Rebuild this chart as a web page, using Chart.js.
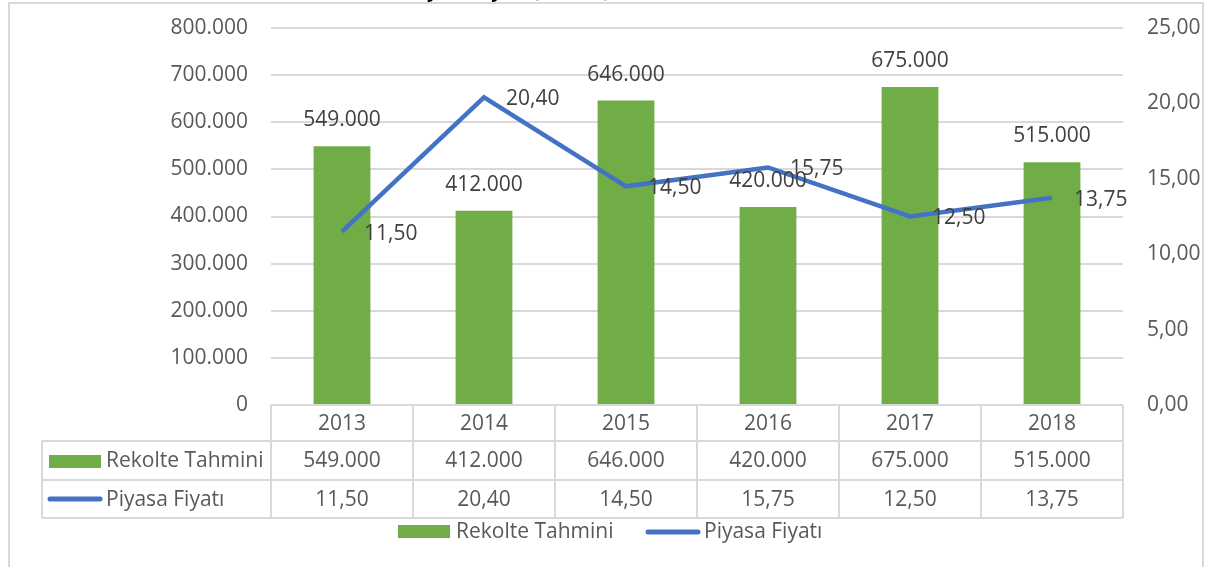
<!DOCTYPE html>
<html>
<head>
<meta charset="utf-8">
<script src="https://cdn.jsdelivr.net/npm/chart.js@4"></script>
<style>
  html, body { margin: 0; padding: 0; background: #fff; }
  #wrap { width: 1208px; height: 567px; position: relative; }
</style>
</head>
<body>
<div id="wrap"><canvas id="grafik" width="1208" height="567"></canvas></div>
<script>
const yillar = ['2013', '2014', '2015', '2016', '2017', '2018'];
const rekolte = [549000, 412000, 646000, 420000, 675000, 515000];
const fiyat = [11.50, 20.40, 14.50, 15.75, 12.50, 13.75];
const seriAdlari = ['Rekolte Tahmini', 'Piyasa Fiyatı'];
const baslik = 'Fındık Rekolte Tahmini ve Piyasa Fiyatı (ton, TL)';

const YESIL = '#70AD47';
const MAVI = '#4472C4';
const YAZI = '#595959';
const CIZGI = '#d9d9d9';
const FONT = '"Open Sans", Lato, sans-serif';
const BOY = 21;

// 549000 -> 549.000
const binlik = (v) => String(Math.round(v)).replace(/\B(?=(\d{3})+(?!\d))/g, '.');
// 11.5 -> 11,50
const ondalik = (v) => v.toFixed(2).replace('.', ',');

const tabloPlugin = {
    id: 'tablo',
    afterDatasetsDraw(chart) {
        const ctx = chart.ctx;
        const x = chart.scales.x;
        const area = chart.chartArea;
        const ust = area.bottom;
        const satir1 = 441, satir2 = 480, alt = 518;
        const solKenar = 42;
        const adim = (area.right - area.left) / yillar.length;

        ctx.save();

        // data labels
        ctx.fillStyle = '#404040';
        ctx.font = BOY + 'px ' + FONT;
        const barMeta = chart.getDatasetMeta(1);
        barMeta.data.forEach((bar, i) => {
            ctx.textAlign = 'center';
            ctx.textBaseline = 'middle';
            ctx.fillText(binlik(rekolte[i]), bar.x, bar.y - 26);
        });
        const lineMeta = chart.getDatasetMeta(0);
        lineMeta.data.forEach((pt, i) => {
            ctx.textAlign = 'left';
            ctx.textBaseline = 'middle';
            ctx.fillText(ondalik(fiyat[i]), pt.x + 22, pt.y + 2);
        });

        // table lines
        ctx.strokeStyle = CIZGI;
        ctx.lineWidth = 2;
        ctx.beginPath();
        ctx.moveTo(area.left, ust); ctx.lineTo(area.right, ust);
        ctx.moveTo(solKenar, satir1); ctx.lineTo(area.right, satir1);
        ctx.moveTo(solKenar, satir2); ctx.lineTo(area.right, satir2);
        ctx.moveTo(solKenar, alt); ctx.lineTo(area.right, alt);
        ctx.moveTo(solKenar, satir1); ctx.lineTo(solKenar, alt);
        for (let i = 0; i <= yillar.length; i++) {
            const xx = area.left + adim * i;
            ctx.moveTo(xx, ust); ctx.lineTo(xx, alt);
        }
        ctx.stroke();

        // table text
        ctx.fillStyle = YAZI;
        ctx.font = BOY + 'px ' + FONT;
        ctx.textAlign = 'center';
        ctx.textBaseline = 'middle';
        yillar.forEach((y, i) => {
            const cx = x.getPixelForValue(i);
            ctx.fillText(y, cx, (ust + satir1) / 2 + 1);
            ctx.fillText(binlik(rekolte[i]), cx, (satir1 + satir2) / 2 + 1);
            ctx.fillText(ondalik(fiyat[i]), cx, (satir2 + alt) / 2 + 1);
        });

        // row keys
        ctx.fillStyle = YESIL;
        ctx.fillRect(49, 455, 52, 13);
        ctx.strokeStyle = MAVI;
        ctx.lineWidth = 5;
        ctx.lineCap = 'round';
        ctx.beginPath();
        ctx.moveTo(50, 499); ctx.lineTo(100, 499);
        ctx.stroke();
        ctx.fillStyle = YAZI;
        ctx.textAlign = 'left';
        ctx.fillText(seriAdlari[0], 106, (satir1 + satir2) / 2 + 1);
        ctx.fillText(seriAdlari[1], 106, (satir2 + alt) / 2 + 1);

        // bottom legend
        ctx.fillStyle = YESIL;
        ctx.fillRect(398, 525, 52, 13);
        ctx.fillStyle = YAZI;
        ctx.fillText(seriAdlari[0], 456, 532);
        ctx.beginPath();
        ctx.moveTo(648, 532); ctx.lineTo(698, 532);
        ctx.stroke();
        ctx.fillText(seriAdlari[1], 704, 532);

        // outer frame and clipped title
        ctx.strokeStyle = CIZGI;
        ctx.lineWidth = 2;
        ctx.beginPath();
        ctx.moveTo(9, 580); ctx.lineTo(9, 3); ctx.lineTo(1203, 3); ctx.lineTo(1203, 580);
        ctx.stroke();
        ctx.fillStyle = '#000';
        ctx.font = 'bold 19px ' + FONT;
        ctx.textAlign = 'right';
        ctx.textBaseline = 'alphabetic';
        ctx.fillText(baslik, 610, -3);

        ctx.restore();
    }
};

new Chart(document.getElementById('grafik'), {
    type: 'bar',
    data: {
        labels: yillar,
        datasets: [{
            type: 'line',
            label: seriAdlari[1],
            data: fiyat,
            yAxisID: 'y1',
            borderColor: MAVI,
            backgroundColor: MAVI,
            borderWidth: 4.5,
            pointRadius: 0,
            tension: 0,
            order: 0
        }, {
            type: 'bar',
            label: seriAdlari[0],
            data: rekolte,
            yAxisID: 'y',
            backgroundColor: YESIL,
            barPercentage: 0.4,
            categoryPercentage: 1,
            order: 1
        }]
    },
    options: {
        responsive: false,
        animation: false,
        layout: { padding: { top: 28, bottom: 162, left: 0, right: 0 } },
        plugins: {
            legend: { display: false },
            tooltip: { enabled: false }
        },
        scales: {
            x: { display: false },
            y: {
                position: 'left',
                min: 0,
                max: 800000,
                afterFit: (s) => { s.width = 271; s.paddingTop = 0; s.paddingBottom = 0; },
                border: { display: false },
                grid: { color: CIZGI, lineWidth: 2, drawTicks: false },
                ticks: {
                    stepSize: 100000,
                    padding: 23,
                    color: YAZI,
                    font: { family: FONT, size: BOY },
                    callback: (v) => binlik(v)
                }
            },
            y1: {
                position: 'right',
                min: 0,
                max: 25,
                afterFit: (s) => { s.width = 85; s.paddingTop = 0; s.paddingBottom = 0; },
                border: { display: false },
                grid: { display: false, drawTicks: false },
                ticks: {
                    stepSize: 5,
                    padding: 24,
                    color: YAZI,
                    font: { family: FONT, size: BOY },
                    callback: (v) => ondalik(v)
                }
            }
        }
    },
    plugins: [tabloPlugin]
});
</script>
</body>
</html>
